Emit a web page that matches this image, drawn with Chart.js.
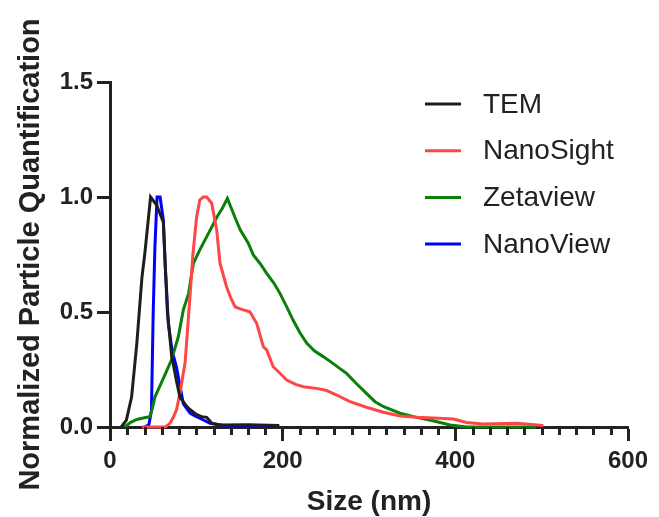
<!DOCTYPE html>
<html>
<head>
<meta charset="utf-8">
<script src="https://cdn.jsdelivr.net/npm/chart.js@4"></script>
<style>
  body { margin: 0; background: #fff; }
  #wrap { width: 659px; height: 517px; }
</style>
</head>
<body>
<div id="wrap"><canvas id="sizeChart" width="659" height="517"></canvas></div>
<script>
"use strict";

// size distributions (nm)
const temSize = [13, 19, 25, 31, 37, 40.5, 47, 54, 61.8, 64, 66.5, 71.4, 77, 81, 88.8, 93, 100, 106, 112, 118, 127, 160, 196];
const temValue = [0, 0.03, 0.13, 0.36, 0.65, 0.76, 1.0, 0.965, 0.89, 0.7, 0.5, 0.31, 0.2, 0.13, 0.09, 0.075, 0.055, 0.045, 0.042, 0.016, 0.009, 0.01, 0.006];

const sightSize = [37, 64, 69.5, 73, 77, 81, 87, 92.7, 96, 100.4, 104, 108, 112, 117.8, 123.6, 127.4, 135, 140, 144.8, 150, 154.4, 162, 170, 177.6, 181.5, 189, 193, 204.7, 215, 224, 239, 250, 262.6, 278, 297, 316.6, 336, 355, 374.5, 397.7, 413, 432, 471, 502];
const sightValue = [0, 0, 0.016, 0.04, 0.074, 0.146, 0.28, 0.57, 0.75, 0.914, 0.987, 1.0, 1.0, 0.973, 0.856, 0.712, 0.61, 0.56, 0.523, 0.515, 0.509, 0.501, 0.45, 0.349, 0.335, 0.262, 0.248, 0.204, 0.185, 0.175, 0.168, 0.16, 0.139, 0.11, 0.086, 0.064, 0.048, 0.042, 0.039, 0.035, 0.02, 0.013, 0.016, 0.007];

const zetaSize = [17, 24, 31, 40, 46, 49, 52, 58, 64, 71, 79, 85, 91, 96.5, 104, 116, 124, 130, 136, 139, 146, 151, 160, 166, 174, 181.5, 190, 197, 205, 212, 220, 228, 237, 247, 257, 266, 274, 285, 297, 307, 317, 336, 355, 374, 394, 413, 450, 493];
const zetaValue = [0, 0.02, 0.033, 0.04, 0.045, 0.08, 0.13, 0.18, 0.23, 0.29, 0.39, 0.51, 0.58, 0.71, 0.77, 0.856, 0.914, 0.95, 0.994, 0.965, 0.9, 0.856, 0.8, 0.748, 0.71, 0.668, 0.625, 0.58, 0.52, 0.465, 0.41, 0.364, 0.33, 0.306, 0.28, 0.255, 0.233, 0.19, 0.146, 0.11, 0.088, 0.06, 0.042, 0.027, 0.009, 0, 0, 0];

const viewSize = [40, 45, 48, 50, 52, 54.5, 58, 61.8, 64, 67.6, 72, 77, 85, 92.7, 100, 104, 116, 135, 196];
const viewValue = [0, 0.01, 0.07, 0.49, 0.78, 1.0, 1.0, 0.9, 0.7, 0.45, 0.33, 0.26, 0.1, 0.06, 0.045, 0.038, 0.016, 0.004, 0.004];

const seriesNames = ["TEM", "NanoSight", "Zetaview", "NanoView"];
const seriesColors = ["#1e1e1e", "#ff4646", "#0a800a", "#0000ff"];

const xTicks = [0, 200, 400, 600];
const yTicks = [0, 0.5, 1.0, 1.5];

const ink = "#222";
const fontFamily = "'Liberation Sans', Arial, sans-serif";

function toPoints(xs, ys) {
  return xs.map((x, i) => ({ x: x, y: ys[i] }));
}

const allSeries = [
  toPoints(temSize, temValue),
  toPoints(sightSize, sightValue),
  toPoints(zetaSize, zetaValue),
  toPoints(viewSize, viewValue),
];

// minor ticks on the x axis every 20 nm
const minorTicks = {
  id: "minorTicks",
  afterDraw(chart) {
    const ctx = chart.ctx;
    const xs = chart.scales.x;
    const bottom = chart.chartArea.bottom;
    ctx.save();
    ctx.strokeStyle = ink;
    ctx.lineWidth = 3;
    for (let v = 20; v < 600; v += 20) {
      if (v % 200 === 0) continue;
      const px = Math.round(xs.getPixelForValue(v)) + 0.5;
      ctx.beginPath();
      ctx.moveTo(px, bottom);
      ctx.lineTo(px, bottom + 8);
      ctx.stroke();
    }
    ctx.restore();
  },
};

// legend inside the plot, top right
const insideLegend = {
  id: "insideLegend",
  afterDraw(chart) {
    const ctx = chart.ctx;
    ctx.save();
    ctx.font = "28px " + fontFamily;
    ctx.textBaseline = "middle";
    ctx.textAlign = "left";
    chart.data.datasets.forEach((ds, i) => {
      const y = 104 + i * 46.7;
      ctx.strokeStyle = ds.borderColor;
      ctx.lineWidth = 3;
      ctx.beginPath();
      ctx.moveTo(425, y);
      ctx.lineTo(461, y);
      ctx.stroke();
      ctx.fillStyle = ink;
      ctx.fillText(ds.label, 483, y + 1);
    });
    ctx.restore();
  },
};

const ctx = document.getElementById("sizeChart").getContext("2d");

new Chart(ctx, {
  type: "scatter",
  data: {
    datasets: allSeries.map((pts, i) => ({
      label: seriesNames[i],
      data: pts,
      showLine: true,
      borderColor: seriesColors[i],
      backgroundColor: seriesColors[i],
      borderWidth: 3,
      pointRadius: 0,
      tension: 0,
      clip: false,
    })),
  },
  options: {
    responsive: false,
    animation: false,
    layout: { padding: { top: 82, right: 31, left: 0, bottom: 0 } },
    plugins: {
      legend: { display: false },
      tooltip: { enabled: false },
    },
    scales: {
      x: {
        type: "linear",
        min: 0,
        max: 600,
        afterBuildTicks(scale) {
          scale.ticks = xTicks.map((v) => ({ value: v }));
        },
        afterFit(scale) {
          scale.height = 90;
        },
        border: { width: 3, color: ink },
        grid: { drawOnChartArea: false, tickLength: 14, tickWidth: 3, tickColor: ink },
        ticks: {
          color: ink,
          padding: 6,
          font: { family: fontFamily, size: 24, weight: "bold" },
          maxRotation: 0,
        },
        title: {
          display: true,
          text: "Size (nm)",
          color: ink,
          font: { family: fontFamily, size: 28, weight: "bold", lineHeight: 1.0 },
          padding: { top: 0, bottom: 1 },
        },
      },
      y: {
        type: "linear",
        min: 0,
        max: 1.5,
        afterBuildTicks(scale) {
          scale.ticks = yTicks.map((v) => ({ value: v }));
        },
        afterFit(scale) {
          scale.width = 110;
        },
        border: { width: 3, color: ink },
        grid: { drawOnChartArea: false, tickLength: 13, tickWidth: 3, tickColor: ink },
        ticks: {
          color: ink,
          padding: 4,
          font: { family: fontFamily, size: 24, weight: "bold" },
          callback: (v) => v.toFixed(1),
        },
        title: {
          display: true,
          text: "Normalized Particle Quantification",
          color: ink,
          font: { family: fontFamily, size: 29, weight: "bold" },
          padding: { top: 14, bottom: 0 },
        },
      },
    },
  },
  plugins: [minorTicks, insideLegend],
});
</script>
</body>
</html>
